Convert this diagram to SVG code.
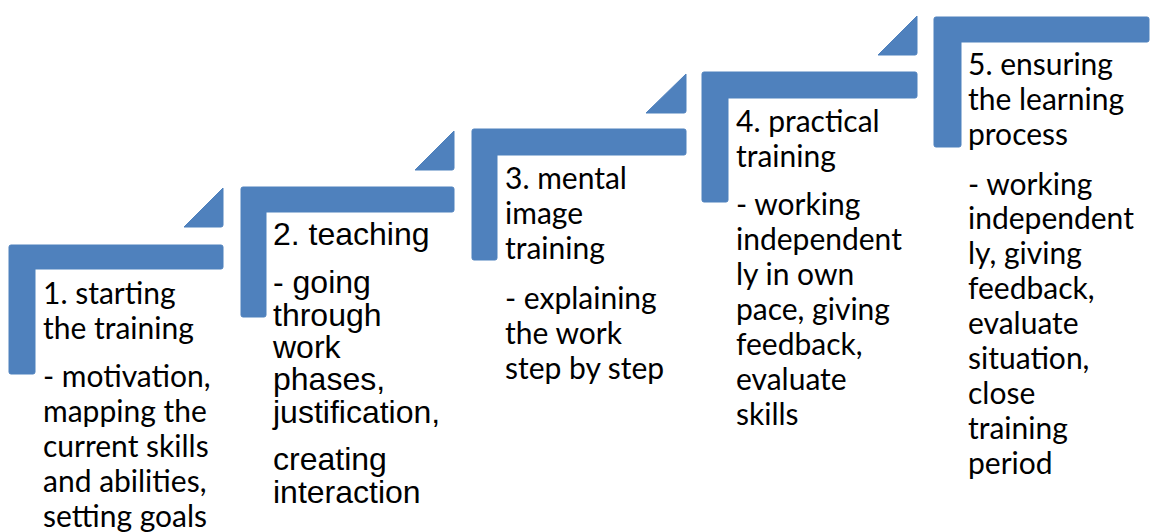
<svg xmlns="http://www.w3.org/2000/svg" width="1151" height="532" viewBox="0 0 1151 532">
<style>
.shape{fill:#4f81bd;stroke:#4f81bd;stroke-width:1;stroke-linejoin:round}
.t{font-family:Lato,"Open Sans",sans-serif;font-size:30px;fill:#000}
.a{font-family:"Liberation Sans",Arial,sans-serif;font-size:32px;fill:#000}
</style>
<rect width="1151" height="532" fill="#fff"/>
<g id="step1">
<path class="shape" d="M11,245 H221 Q223,245 223,247 V267 Q223,269 221,269 H35 V372 Q35,374 33,374 H11 Q9,374 9,372 V247 Q9,245 11,245 Z"/>
<path class="shape" d="M223,188 V225 Q223,227 221,227 H184 Z"/>
<text class="t" x="43"><tspan x="43" y="304">1. starting</tspan><tspan x="43" y="339">the training</tspan><tspan x="43" y="387">- motivation,</tspan><tspan x="43" y="422">mapping the</tspan><tspan x="43" y="457">current skills</tspan><tspan x="43" y="492">and abilities,</tspan><tspan x="43" y="527">setting goals</tspan></text>
</g>
<g id="step2">
<path class="shape" d="M243,187 H452 Q454,187 454,189 V210 Q454,212 452,212 H266 V315 Q266,317 264,317 H243 Q241,317 241,315 V189 Q241,187 243,187 Z"/>
<path class="shape" d="M454,131 V168 Q454,170 452,170 H415 Z"/>
<text class="a"><tspan x="273" y="245">2. teaching</tspan><tspan x="273" y="293">- going</tspan><tspan x="273" y="326">through</tspan><tspan x="273" y="358">work</tspan><tspan x="273" y="390">phases,</tspan><tspan x="273" y="423">justification,</tspan><tspan x="273" y="470">creating</tspan><tspan x="273" y="503">interaction</tspan></text>
</g>
<g id="step3">
<path class="shape" d="M474,129 H684 Q686,129 686,131 V153 Q686,155 684,155 H497 V258 Q497,260 495,260 H474 Q472,260 472,258 V131 Q472,129 474,129 Z"/>
<path class="shape" d="M686,74 V111 Q686,113 684,113 H646 Z"/>
<text class="t"><tspan x="505" y="189">3. mental</tspan><tspan x="505" y="224">image</tspan><tspan x="505" y="259">training</tspan><tspan x="505" y="309">- explaining</tspan><tspan x="505" y="344">the work</tspan><tspan x="505" y="379">step by step</tspan></text>
</g>
<g id="step4">
<path class="shape" d="M704,72 H915 Q917,72 917,74 V96 Q917,98 915,98 H728 V200 Q728,202 726,202 H704 Q702,202 702,200 V74 Q702,72 704,72 Z"/>
<path class="shape" d="M917,16 V53 Q917,55 915,55 H878 Z"/>
<text class="t"><tspan x="736" y="132">4. practical</tspan><tspan x="736" y="167">training</tspan><tspan x="736" y="215">- working</tspan><tspan x="736" y="250">independent</tspan><tspan x="736" y="285">ly in own</tspan><tspan x="736" y="320">pace, giving</tspan><tspan x="736" y="355">feedback,</tspan><tspan x="736" y="390">evaluate</tspan><tspan x="736" y="425">skills</tspan></text>
</g>
<g id="step5">
<path class="shape" d="M936,17 H1147 Q1149,17 1149,19 V40 Q1149,42 1147,42 H961 V145 Q961,147 959,147 H936 Q934,147 934,145 V19 Q934,17 936,17 Z"/>
<text class="t"><tspan x="968" y="75">5. ensuring</tspan><tspan x="968" y="110">the learning</tspan><tspan x="968" y="145">process</tspan><tspan x="968" y="195">- working</tspan><tspan x="968" y="229">independent</tspan><tspan x="968" y="264">ly, giving</tspan><tspan x="968" y="299">feedback,</tspan><tspan x="968" y="334">evaluate</tspan><tspan x="968" y="369">situation,</tspan><tspan x="968" y="404">close</tspan><tspan x="968" y="439">training</tspan><tspan x="968" y="474">period</tspan></text>
</g>
<g id="connectors"/>
</svg>
